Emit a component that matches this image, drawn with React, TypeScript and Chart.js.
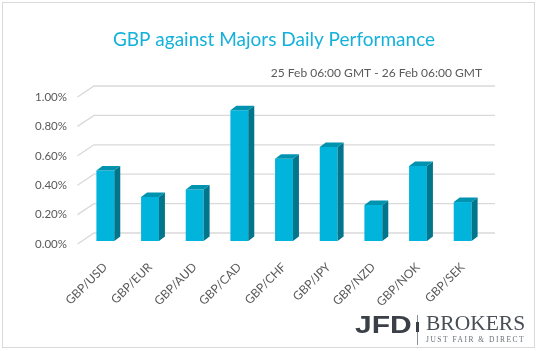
import React, { useEffect, useRef } from "react";
import { Chart, registerables } from "chart.js";

Chart.register(...registerables);

const categories = ["GBP/USD", "GBP/EUR", "GBP/AUD", "GBP/CAD", "GBP/CHF", "GBP/JPY", "GBP/NZD", "GBP/NOK", "GBP/SEK"];
const performance = [0.48, 0.30, 0.35, 0.89, 0.56, 0.64, 0.245, 0.51, 0.265];
const yTickValues = [0, 0.2, 0.4, 0.6, 0.8, 1.0];
const titleText = "GBP against Majors Daily Performance";
const subtitleText = "25 Feb 06:00 GMT - 26 Feb 06:00 GMT";

const W = 538;
const H = 351;
const FRONT = "#00B4DC";
const SIDE = "#00758C";
const TOP = "#0093B0";
const GRID = "#D9D9D9";
const TEXT = "#595959";

const framePlugin = {
  id: "frame",
  beforeDraw(chart: any) {
    const ctx = chart.ctx;
    ctx.save();
    ctx.fillStyle = "#ffffff";
    ctx.fillRect(0, 0, W, H);
    ctx.strokeStyle = GRID;
    ctx.lineWidth = 1;
    ctx.strokeRect(2.5, 2.5, 532, 345);
    ctx.restore();
  },
  afterDraw(chart: any) {
    const ctx = chart.ctx;
    ctx.save();
    // title
    ctx.fillStyle = "#14B1DA";
    ctx.font = '19px Lato';
    ctx.textAlign = "center";
    ctx.textBaseline = "middle";
    ctx.fillText(titleText, 274, 40);
    // subtitle
    ctx.fillStyle = TEXT;
    ctx.font = '12px Lato';
    ctx.textAlign = "right";
    ctx.fillText(subtitleText, 482, 73);
    // logo
    ctx.textAlign = "left";
    ctx.textBaseline = "alphabetic";
    ctx.save();
    ctx.translate(355, 333);
    ctx.scale(1.25, 1);
    ctx.fillStyle = "#3B4048";
    ctx.font = 'bold 24px "Liberation Sans"';
    ctx.fillText("JFD", 0, 0);
    ctx.restore();
    ctx.strokeStyle = "#8A8F96";
    ctx.lineWidth = 1;
    ctx.beginPath();
    ctx.moveTo(417.5, 315);
    ctx.lineTo(417.5, 345);
    ctx.stroke();
    ctx.fillStyle = "#3B4048";
    ctx.fillRect(416, 322, 3, 10);
    ctx.fillStyle = "#4A4F57";
    ctx.font = '21.5px "Liberation Serif"';
    ctx.fillText("BROKERS", 426, 329.7);
    ctx.fillStyle = "#6A6F76";
    ctx.font = '7.5px "Liberation Serif"';
    (ctx as any).letterSpacing = "1.5px";
    ctx.fillText("JUST FAIR & DIRECT", 426, 342.3);
    (ctx as any).letterSpacing = "0px";
    ctx.restore();
  },
};

const gridPlugin = {
  id: "grid3d",
  beforeDatasetsDraw(chart: any) {
    const ctx = chart.ctx;
    const y = chart.scales.y;
    const area = chart.chartArea;
    ctx.save();
    ctx.strokeStyle = GRID;
    ctx.lineWidth = 1.3;
    for (const v of yTickValues) {
      const py = y.getPixelForValue(v);
      ctx.beginPath();
      ctx.moveTo(area.left - 5.5, py + 3);
      ctx.lineTo(area.left + 11, py - 8);
      ctx.lineTo(area.right + 10, py - 8);
      ctx.stroke();
    }
    ctx.restore();
  },
};

const barsPlugin = {
  id: "bars3d",
  afterDatasetsDraw(chart: any) {
    const ctx = chart.ctx;
    const meta = chart.getDatasetMeta(0);
    const dx = 6;
    const dy = -4.5;
    ctx.save();
    meta.data.forEach((el: any) => {
      const { x, y, base, width } = el.getProps(["x", "y", "base", "width"], true);
      const l = x - width / 2;
      const r = x + width / 2;
      ctx.fillStyle = SIDE;
      ctx.beginPath();
      ctx.moveTo(r, y);
      ctx.lineTo(r + dx, y + dy);
      ctx.lineTo(r + dx, base + dy);
      ctx.lineTo(r, base);
      ctx.closePath();
      ctx.fill();
      ctx.fillStyle = TOP;
      ctx.beginPath();
      ctx.moveTo(l, y);
      ctx.lineTo(r, y);
      ctx.lineTo(r + dx, y + dy);
      ctx.lineTo(l + dx, y + dy);
      ctx.closePath();
      ctx.fill();
    });
    ctx.restore();
  },
};

export default function App() {
  const ref = useRef<HTMLCanvasElement | null>(null);
  useEffect(() => {
    if (!ref.current) return;
    const chart = new Chart(ref.current, {
      type: "bar",
      data: {
        labels: categories,
        datasets: [
          {
            data: performance,
            backgroundColor: FRONT,
            borderWidth: 0,
            barPercentage: 0.4,
            categoryPercentage: 1.0,
          },
        ],
      },
      options: {
        responsive: false,
        animation: false,
        devicePixelRatio: 1,
        layout: { padding: { top: 94, right: 53, left: 0, bottom: 0 } },
        plugins: { legend: { display: false }, tooltip: { enabled: false }, title: { display: false } },
        scales: {
          y: {
            min: 0,
            max: 1,
            afterFit: (s: any) => { s.width = 83; },
            afterBuildTicks: (s: any) => { s.ticks = yTickValues.map((v) => ({ value: v })); },
            grid: { display: false, drawTicks: false },
            border: { display: false },
            ticks: {
              padding: 16,
              labelOffset: 3,
              color: TEXT,
              font: { family: "Lato", size: 11.5 },
              callback: (v: any) => Number(v).toFixed(2) + "%",
            },
          },
          x: {
            afterFit: (s: any) => { s.height = 110; },
            grid: { display: false, drawTicks: false },
            border: { display: false },
            ticks: {
              maxRotation: 45,
              minRotation: 45,
              padding: 19,
              color: TEXT,
              font: { family: "Lato", size: 12 },
            },
          },
        },
      },
      plugins: [framePlugin, gridPlugin, barsPlugin],
    });
    return () => chart.destroy();
  }, []);
  return (
    <div style={{ position: "absolute", left: 0, top: 0, width: W, height: H }}>
      <canvas ref={ref} width={W} height={H} style={{ display: "block", width: W, height: H }} />
    </div>
  );
}
